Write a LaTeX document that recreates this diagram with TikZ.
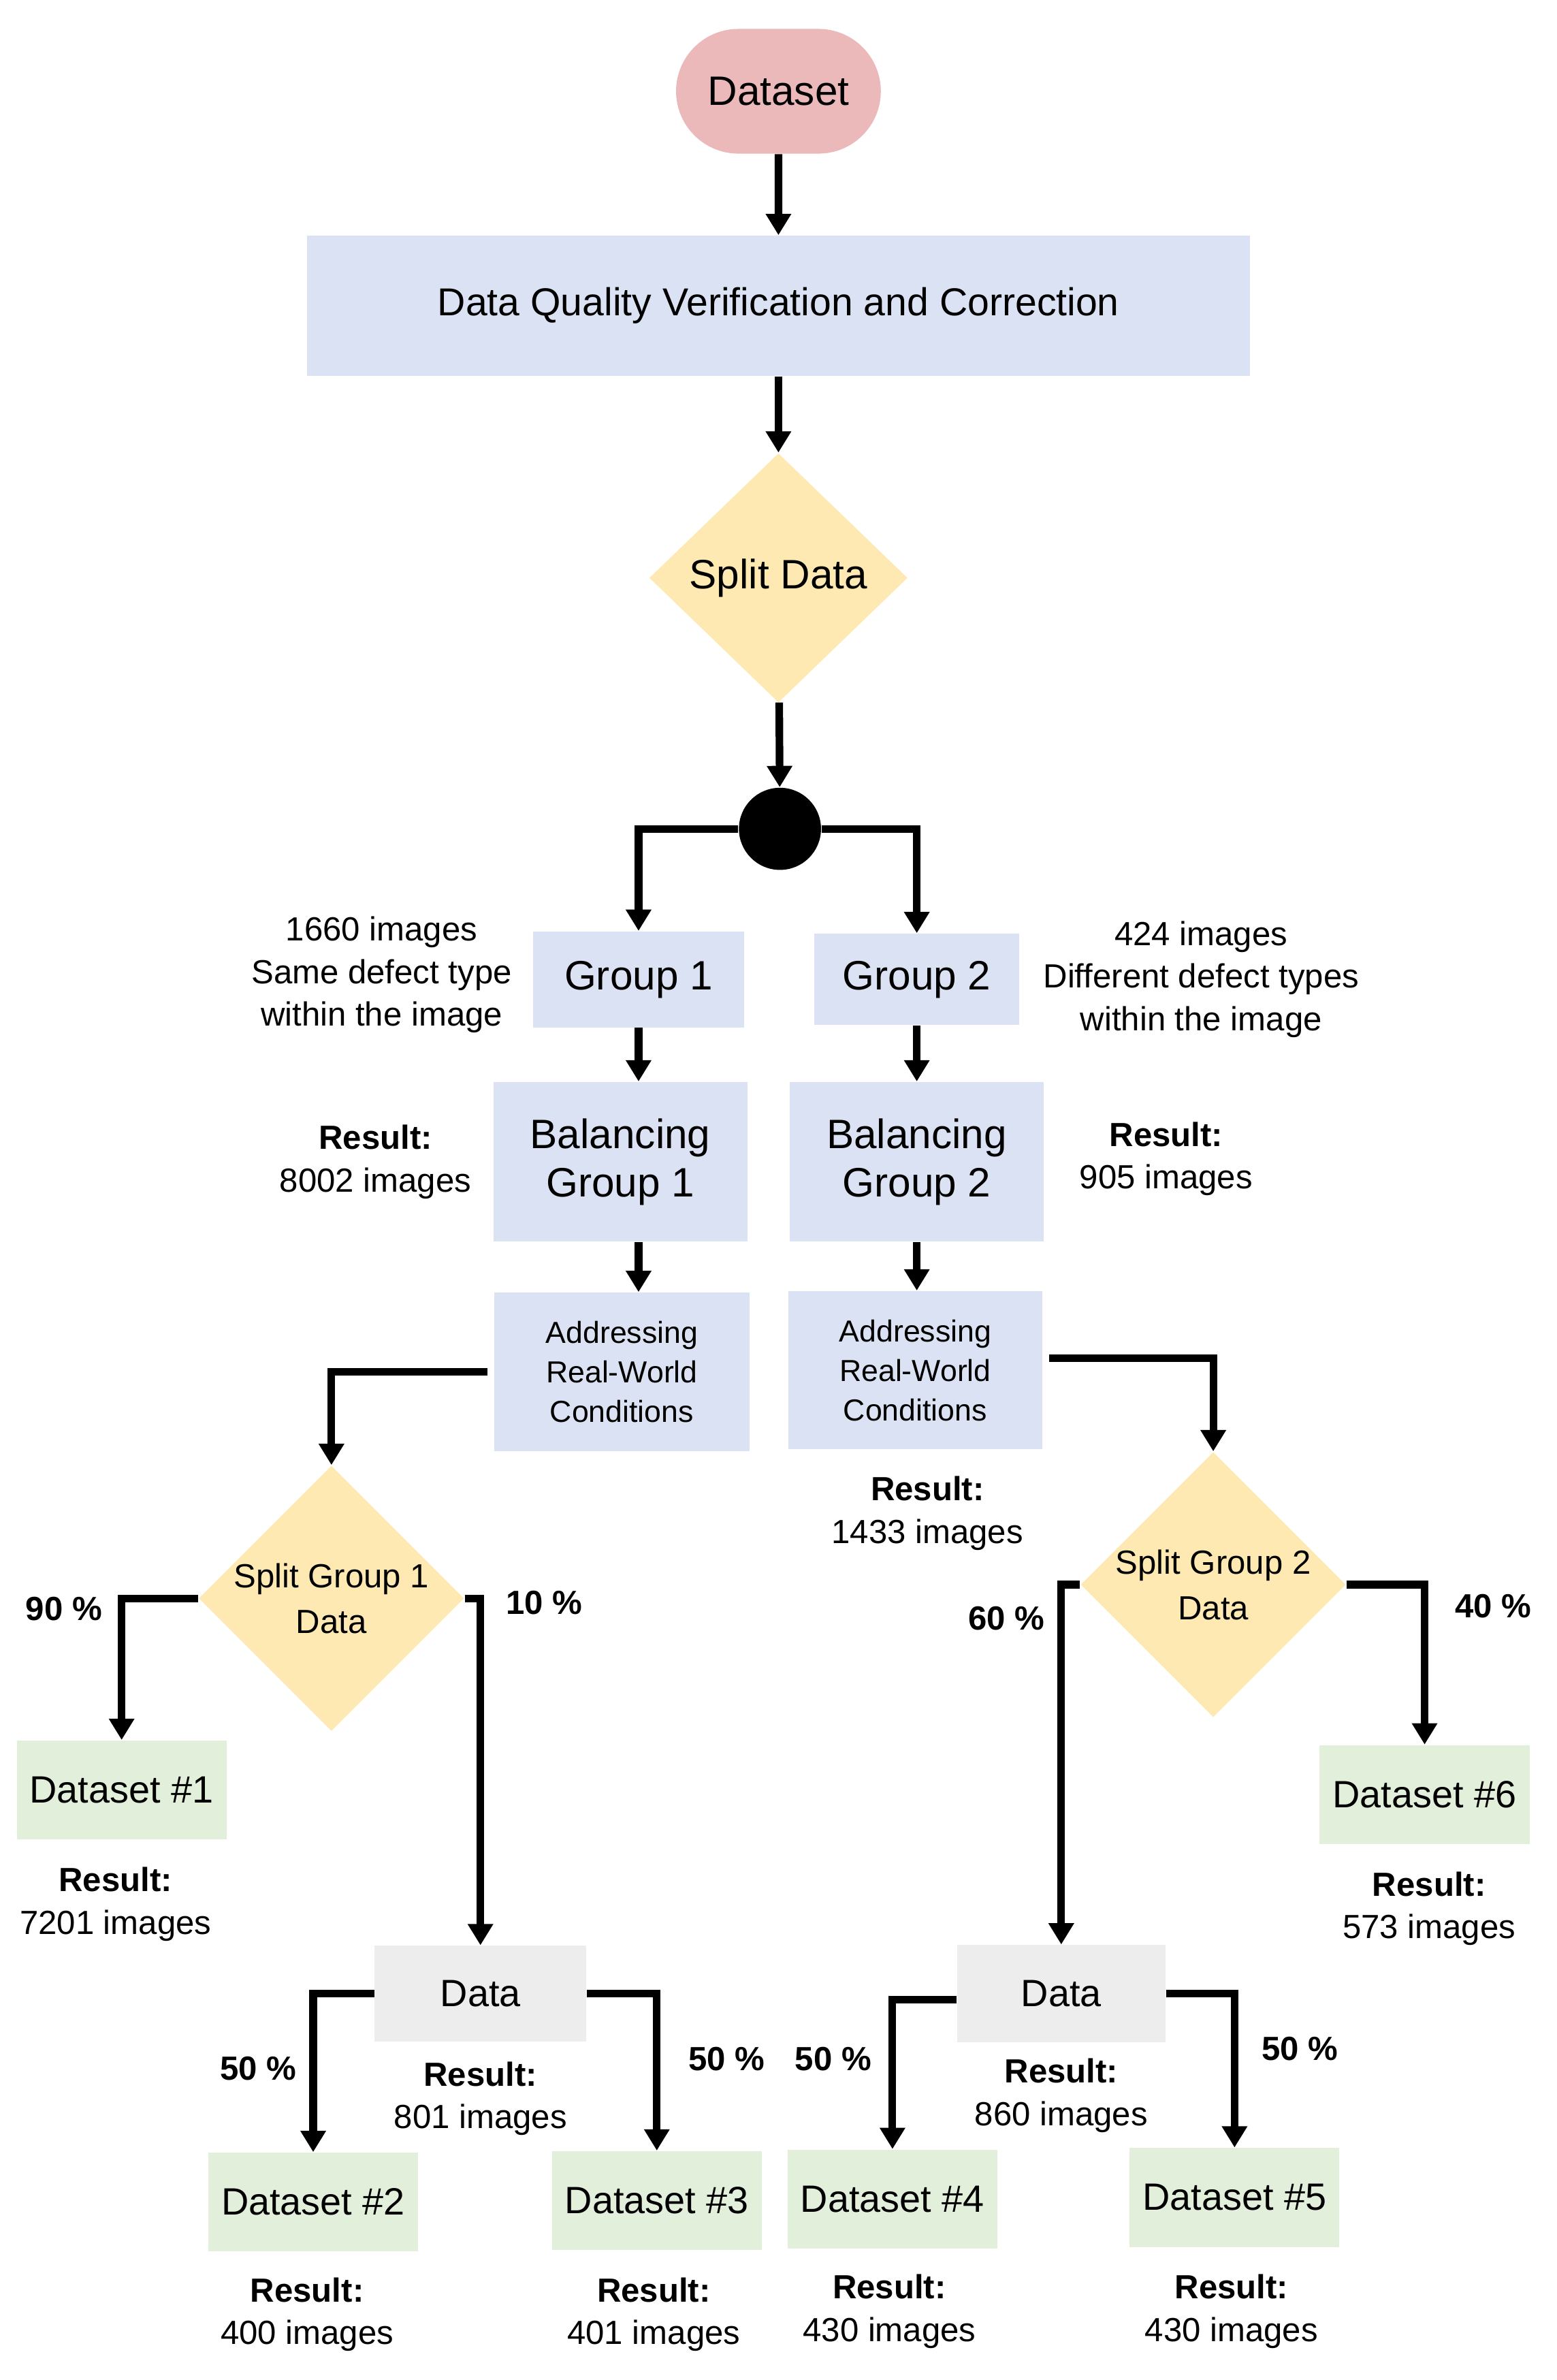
\documentclass[tikz,border=0pt]{standalone}
\usepackage{fontspec}
\setmainfont{Liberation Sans}
\usetikzlibrary{shapes.geometric, shapes.misc, arrows.meta}
\definecolor{pinkbox}{RGB}{236,185,187}
\definecolor{bluebox}{RGB}{218,226,243}
\definecolor{yellowbox}{RGB}{255,233,178}
\definecolor{greenbox}{RGB}{226,239,218}
\definecolor{greybox}{RGB}{237,237,237}
\tikzset{
  box/.style={draw=none, fill=bluebox, inner sep=0pt, align=center},
  ds/.style={draw=none, fill=greenbox, minimum width=69pt, minimum height=32.5pt, inner sep=0pt, font=\fontsize{12.5}{14}\selectfont},
  dec/.style={diamond, draw=none, fill=yellowbox, inner sep=0pt, align=center},
  note/.style={align=center, font=\fontsize{11}{14}\selectfont},
  arr/.style={line width=2.5pt, -{Triangle[length=7pt,width=8pt]}},
}
\begin{document}
\begin{tikzpicture}[x=0.5pt,y=-0.5pt]
\useasboundingbox (0,0) rectangle (1024,1565);

% Nodes
\node [rounded rectangle, fill=pinkbox, minimum width=74pt, minimum height=41pt, font=\fontsize{13.5}{16}\selectfont] (dataset) at (512,60) {Dataset};
\node [box, minimum width=310pt, minimum height=46pt, font=\fontsize{12.8}{15}\selectfont] (dqvc) at (512,201) {Data Quality Verification and Correction};
\node [dec, minimum width=85pt, minimum height=82pt, font=\fontsize{13.5}{16}\selectfont] (split) at (512,380) {Split Data};
\node [circle, fill=black, minimum size=27pt, inner sep=0pt] (dot) at (513,545) {};

\node [box, minimum width=69.5pt, minimum height=31.5pt, font=\fontsize{13.5}{16}\selectfont] (g1) at (420,644) {Group 1};
\node [box, minimum width=67.5pt, minimum height=30pt, font=\fontsize{13.5}{16}\selectfont] (g2) at (603,644) {Group 2};
\node [note] (n1) at (251,641) {1660 images\\Same defect type\\within the image};
\node [note] (n2) at (790,644) {424 images\\Different defect types\\within the image};

\node [box, minimum width=83.5pt, minimum height=52.5pt, font=\fontsize{13.5}{16}\selectfont] (b1) at (408,764) {Balancing\\Group 1};
\node [box, minimum width=83.5pt, minimum height=52.5pt, font=\fontsize{13.5}{16}\selectfont] (b2) at (603,764) {Balancing\\Group 2};
\node [note] (rb1) at (247,764) {\textbf{Result:}\\8002 images};
\node [note] (rb2) at (767,762) {\textbf{Result:}\\905 images};

\node [box, minimum width=84pt, minimum height=52pt, font=\fontsize{10}{13}\selectfont] (a1) at (409,902) {Addressing\\Real-World\\Conditions};
\node [box, minimum width=83.5pt, minimum height=52pt, font=\fontsize{10}{13}\selectfont] (a2) at (602,901) {Addressing\\Real-World\\Conditions};
\node [note] (ra2) at (610,995) {\textbf{Result:}\\1433 images};

\node [dec, minimum width=83pt, minimum height=83pt, font=\fontsize{11}{15}\selectfont] (s1) at (218,1051) {Split Group 1\\Data};
\node [dec, minimum width=80pt, minimum height=82pt, font=\fontsize{11}{15}\selectfont] (s2) at (798,1042) {Split Group 2\\Data};

\node [ds] (d1) at (80,1177) {Dataset \#1};
\node [ds] (d6) at (937,1180) {Dataset \#6};
\node [note] (r1) at (76,1252) {\textbf{Result:}\\7201 images};
\node [note] (r6) at (940,1255) {\textbf{Result:}\\573 images};

\node [box, fill=greybox, minimum width=69.5pt, minimum height=31.5pt, font=\fontsize{12.5}{14}\selectfont] (m1) at (316,1311) {Data};
\node [box, fill=greybox, minimum width=68.5pt, minimum height=32pt, font=\fontsize{12.5}{14}\selectfont] (m2) at (698,1311) {Data};
\node [note] (rm1) at (316,1380) {\textbf{Result:}\\801 images};
\node [note] (rm2) at (698,1378) {\textbf{Result:}\\860 images};

\node [ds] (d2) at (206,1448) {Dataset \#2};
\node [ds] (d3) at (432,1447) {Dataset \#3};
\node [ds] (d4) at (587,1446) {Dataset \#4};
\node [ds] (d5) at (812,1445) {Dataset \#5};
\node [note] (r2) at (202,1522) {\textbf{Result:}\\400 images};
\node [note] (r3) at (430,1522) {\textbf{Result:}\\401 images};
\node [note] (r4) at (585,1520) {\textbf{Result:}\\430 images};
\node [note] (r5) at (810,1520) {\textbf{Result:}\\430 images};

% Percentages
\node [note, font=\fontsize{11}{14}\selectfont\bfseries] (p90) at (42,1058) {90 \%};
\node [note, font=\fontsize{11}{14}\selectfont\bfseries] (p10) at (358,1054) {10 \%};
\node [note, font=\fontsize{11}{14}\selectfont\bfseries] (p60) at (662,1064) {60 \%};
\node [note, font=\fontsize{11}{14}\selectfont\bfseries] (p40) at (982,1056) {40 \%};
\node [note, font=\fontsize{11}{14}\selectfont\bfseries] (p2) at (170,1360) {50 \%};
\node [note, font=\fontsize{11}{14}\selectfont\bfseries] (p3) at (478,1354) {50 \%};
\node [note, font=\fontsize{11}{14}\selectfont\bfseries] (p4) at (548,1354) {50 \%};
\node [note, font=\fontsize{11}{14}\selectfont\bfseries] (p5) at (855,1347) {50 \%};

% Connectors
\draw [arr] (dataset) -- (dqvc);
\draw [arr] (dqvc) -- (split);
\draw [arr] (split) -- (dot);
\draw [arr] (dot.west) -| (g1.north);
\draw [arr] (dot.east) -| (g2.north);
\draw [arr] (g1) -- (g1 |- b1.north);
\draw [arr] (g2) -- (g2 |- b2.north);
\draw [arr] (g1 |- b1.south) -- (g1 |- a1.north);
\draw [arr] (g2 |- b2.south) -- (g2 |- a2.north);
\draw [arr] ([xshift=-2pt,yshift=0pt]a1.west) -| (s1.north);
\draw [arr] ([xshift=2pt,yshift=4pt]a2.east) -| (s2.north);
\draw [arr] (s1.west) -| (d1.north);
\draw [arr] (s1.east) -| (m1.north);
\draw [arr] (s2.west) -| (m2.north);
\draw [arr] (s2.east) -| (d6.north);
\draw [arr] (m1.west) -| (d2.north);
\draw [arr] (m1.east) -| (d3.north);
\draw [arr] ([yshift=-2pt]m2.west) -| (d4.north);
\draw [arr] (m2.east) -| (d5.north);
\end{tikzpicture}
\end{document}
